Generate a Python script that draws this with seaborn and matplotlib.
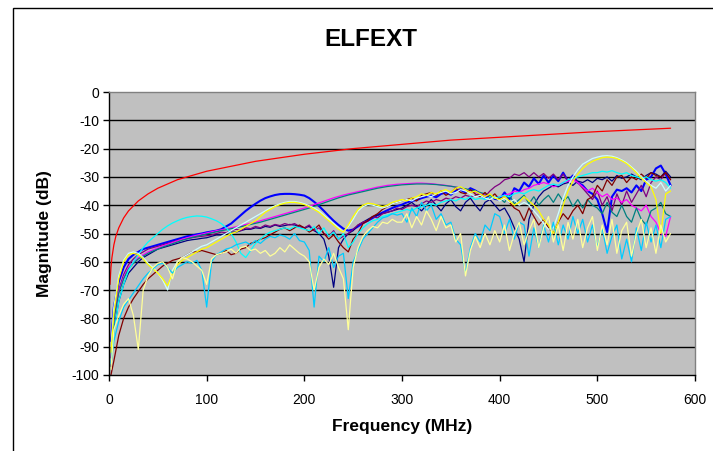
import numpy as np
import matplotlib
matplotlib.use("Agg")
import matplotlib.pyplot as plt
import seaborn as sns
from matplotlib.patches import Rectangle

sns.set_theme(style="white")
plt.rcParams['font.family'] = ['Liberation Sans', 'DejaVu Sans']
plt.rcParams['axes.unicode_minus'] = False
plt.rcParams['text.color'] = 'black'
plt.rcParams['xtick.color'] = 'black'
plt.rcParams['ytick.color'] = 'black'

# ---------------- data ----------------
freq_mhz = np.concatenate([[2], np.arange(5, 580, 5)])

limit_freq = [1, 2, 3, 5, 7, 10, 15, 20, 30, 40, 50, 70, 100, 150, 200, 250, 300,
              350, 400, 450, 500, 550, 575]
limit_db = [-68, -62, -58.5, -54, -51, -48, -44.5, -42, -38.5, -36, -34, -31, -28,
            -24.5, -22, -20, -18.5, -17, -16, -15, -14, -13.2, -12.8]

blue_db = [
    -88, -76, -67, -62, -59, -57.5, -56.5, -55.5, -55, -54.5, -54, -53.5, -53, -52.5, -52, -51.5, -51, -50.7, -50.3, -50,
    -49.6, -49.3, -49, -48.5, -47.5, -46.5, -45, -43.5, -42, -40.7, -39.5, -38.4, -37.5, -36.9, -36.4, -36.1, -36, -36, -36.1, -36.3,
    -36.6, -37.5, -38.8, -40.3, -42, -43.8, -45.5, -47, -48.3, -49, -48.6, -47.5, -46.3, -45.5, -44.5, -43.5, -42.6, -41.8, -41, -40.3,
    -39.8, -39, -38.5, -38.2, -37.5, -37, -36.6, -37.2, -36, -35.5, -36.3, -35, -34.6, -35.5, -34, -34.8, -36, -37.5, -36.5, -37.8,
    -38, -35.5, -38, -34, -35, -32, -33.5, -30.5, -32.5, -29.5, -32, -29.5, -31.5, -28.5, -31.5, -29.5, -32, -33, -35, -36,
    -38, -43, -49.5, -37, -34.5, -35, -34, -35.5, -33, -35, -31, -30, -27, -26, -29, -33]

navy_db = [
    -97, -84, -74, -68, -64, -62, -60, -58.5, -57.5, -56.5, -55.5, -55, -54.5, -54, -53.5, -53, -52.5, -52.2, -52, -51.7,
    -51.5, -51, -50.5, -50.5, -50, -49.5, -49.5, -49, -48.5, -48.5, -48, -48.2, -47.5, -47.8, -47, -47.5, -47.2, -46.8, -47, -47.5,
    -48, -47.5, -49, -50, -52, -58, -69, -55, -52, -50, -49, -47, -46, -45, -44, -43.5, -43, -42.5, -42, -41.5,
    -41, -40, -39, -40.5, -42, -40, -38, -40, -42, -39.5, -38, -40.5, -42, -39, -37.5, -40, -42, -39, -38, -40,
    -42, -41, -44, -48, -52, -60, -45, -40, -37, -35, -34, -33, -33.5, -32.5, -32, -33, -31.5, -32, -31, -32,
    -30.5, -31, -30, -31.5, -29.5, -30.5, -30, -29, -30, -31, -29.5, -28.5, -29, -30, -28, -30]

purple_db = [
    -94, -80, -70, -64.5, -61, -59, -57.5, -56.5, -55.5, -55, -54.5, -54, -53.5, -53, -52.5, -52, -51.8, -51.5, -51.2, -51,
    -50.8, -50.5, -50, -49.5, -49.7, -49, -48.5, -49, -48, -48.3, -47.5, -48, -47, -47.5, -46.8, -47.2, -46.5, -47, -46.5, -47.5,
    -48, -47, -49, -48, -50, -51, -49, -52, -51, -50, -48.5, -47, -46, -45.5, -44, -44.5, -43, -42.5, -42, -41,
    -41.5, -40.5, -40, -40.5, -39.5, -38.5, -39, -38, -38.5, -37.5, -38, -37, -37.5, -36.5, -37, -36.5, -36, -37, -35, -33.5,
    -32.5, -31, -30.5, -29, -29.5, -28.5, -30, -28.5, -30, -28.8, -30.5, -29, -31, -29, -31.5, -30, -32, -34, -36, -38,
    -35, -40, -37, -42, -36, -40, -35, -39, -36, -33, -37, -32, -30, -31, -28.5, -31]

magenta_db = [
    -91, -79, -70.5, -65.5, -62, -60, -58.5, -57.5, -56.5, -55.8, -55.1, -54.4, -53.8, -53.2, -52.6, -52, -51.5, -51, -50.6, -50.2,
    -49.8, -49.4, -49, -48.7, -48.3, -48, -47.6, -47.2, -46.8, -46.4, -46, -45.5, -45, -44.5, -44, -43.5, -43, -42.5, -42, -41.5,
    -41, -40.4, -39.8, -39.2, -38.6, -38, -37.4, -36.9, -36.4, -36, -35.6, -35.2, -34.8, -34.4, -34, -33.6, -33.3, -33, -32.8, -32.6,
    -32.5, -32.4, -32.3, -32.2, -32.2, -32.3, -32.4, -32.6, -32.8, -33, -33.3, -33.6, -34, -34.4, -34.8, -35.3, -35.8, -36.3, -36.8, -37,
    -37, -36.5, -36, -35, -35.5, -34.5, -34, -33, -32.5, -32, -32.5, -33.5, -33, -32, -31.5, -31, -32, -33.5, -35, -34,
    -35.5, -37, -36, -38, -37.5, -39, -38, -40, -41, -42, -40, -44, -46, -50, -51, -44]

teal_db = [
    -92, -80, -71, -66, -62.5, -60.5, -59, -58, -57, -56.2, -55.5, -54.8, -54.2, -53.6, -53, -52.4, -51.9, -51.4, -51, -50.6,
    -50.2, -49.8, -49.4, -49, -48.7, -48.3, -48, -47.6, -47.2, -46.8, -46.4, -46, -45.5, -45, -44.5, -44, -43.5, -43, -42.5, -42,
    -41.5, -41, -40.4, -39.8, -39.2, -38.6, -38, -37.4, -36.9, -36.4, -36, -35.6, -35.2, -34.8, -34.4, -34, -33.7, -33.4, -33.2, -33,
    -32.8, -32.7, -32.6, -32.5, -32.5, -32.5, -32.6, -32.7, -32.9, -33.1, -33.3, -33.6, -33.9, -34.2, -34.6, -35, -35.5, -36, -36.5, -37,
    -37.5, -39, -36.5, -39.5, -38, -36.5, -39.5, -37, -40, -38, -36.5, -39, -36, -38.5, -37, -40.5, -38, -41, -38, -40,
    -41, -43, -39, -42.5, -44, -40, -44, -46, -41, -45, -47, -42, -41, -39, -43, -44]

maroon_db = [
    -100, -95, -86, -80, -76, -73, -70.5, -68, -66, -64.5, -63, -61.5, -60.5, -59.5, -59, -58.5, -57.5, -56.5, -56.5, -56,
    -56.5, -57, -57.5, -57, -56, -57.5, -57, -55.5, -55, -53.5, -53, -52, -51.5, -50.5, -49.5, -48.5, -48, -49, -48, -47,
    -48, -49.5, -48.5, -47, -50, -52, -50.5, -53, -55, -56.5, -52, -50, -46.5, -45.5, -44, -43, -41.5, -40.5, -39.5, -39,
    -38.5, -38, -37.5, -38.5, -36.5, -36, -35.5, -36.5, -35, -36.5, -35.5, -34, -35.5, -36, -34.5, -36, -37, -35.5, -37.5, -36,
    -38, -37, -39, -41, -42, -45.5, -41, -44, -47, -45, -48, -50, -46, -43, -45, -42, -40, -43, -38, -37,
    -33, -35, -31, -33, -30, -29.5, -32, -30, -31, -29, -30.5, -28.5, -29.5, -30, -28.5, -31]

cyan_db = [
    -96, -85, -74, -68, -63, -60, -57.5, -55, -53, -51.5, -50, -48.5, -47.3, -46.3, -45.5, -44.8, -44.3, -44, -43.8, -43.9,
    -44.2, -44.8, -45.5, -46.5, -48, -50, -53, -57, -58.5, -56, -53.5, -52, -50.5, -49.5, -49, -48.5, -48, -48.5, -47.5, -48,
    -48.5, -49, -47.5, -50, -48, -51, -49.5, -52, -50, -55, -53, -50, -48, -46.5, -45.5, -45, -44, -43.5, -43, -42.5,
    -42, -41.5, -42, -41, -40.5, -40, -39.5, -40, -39, -38.5, -38, -38.5, -37.5, -38, -37, -38, -37.5, -38, -37, -37.5,
    -37, -36.5, -37, -36, -35.5, -36, -35, -34.5, -35, -34, -33, -32.5, -33, -32, -31, -30.5, -30, -29.5, -29, -28.5,
    -28.5, -28, -28.3, -27.8, -28.5, -29, -28.5, -29.5, -30, -30.5, -30, -31, -31.5, -31, -32, -34]

lt_turquoise_db = [
    -90, -76, -65, -59.5, -57, -56.5, -57, -58.5, -60.5, -62, -64, -66.5, -70, -63, -60, -58.5, -57.5, -56.5, -55.5, -54.5,
    -54, -53, -52, -51, -50, -49, -48, -47, -46, -45, -44, -43, -42, -41, -40.2, -39.5, -39, -38.7, -38.7, -39,
    -39.5, -40.2, -41, -42, -43.5, -45, -46.5, -48, -49.5, -47.5, -45, -42, -40.5, -39.8, -40, -40.5, -41, -40.5, -39.5, -39,
    -38.5, -38, -38.5, -37.5, -37, -36.5, -37, -36, -35.5, -35, -36, -35.5, -34.5, -35, -36, -37, -36.5, -37.5, -38, -37,
    -38.5, -37.5, -39, -38, -40, -39, -40, -42, -44, -46.5, -48.5, -48, -43, -37.5, -33, -30, -27.5, -25.5, -24.5, -23.5,
    -23, -22.6, -22.5, -22.7, -23.2, -24, -25, -26.5, -28, -30, -31.5, -33, -34, -32, -35, -33]

yellow_db = [
    -92, -78, -66, -60, -57.5, -57, -57.5, -59, -61, -62.5, -64, -66, -68.5, -64, -61, -59.5, -58.5, -57.5, -56.5, -55.5,
    -55, -54, -53, -52, -51, -50, -49.5, -48.5, -47.5, -46.5, -45.5, -44, -42.5, -41.5, -40.5, -39.8, -39.3, -39, -39, -39.3,
    -39.8, -40.5, -41.5, -42.5, -44, -45.5, -47, -48.5, -49.5, -47, -44, -41.5, -40, -39.3, -39.5, -40, -40.5, -40, -39, -38.5,
    -38, -38.5, -37.5, -37, -36, -36.5, -35.5, -36, -35, -34.5, -35.5, -34, -33.5, -34.5, -35.5, -35, -36, -37, -36, -37.5,
    -38, -37, -38.5, -40, -39, -37, -38.5, -40, -42, -45, -47, -50, -46, -40, -35, -31.5, -29, -27, -25.5, -24.5,
    -23.8, -23.2, -23, -23.1, -23.5, -24.3, -25.3, -26.8, -28.5, -30.5, -32, -33.5, -38, -50, -36, -35]

sky_blue_db = [
    -96, -88, -81, -76, -73.5, -71, -68.5, -66, -64, -62.5, -61, -60.5, -62, -64, -62, -61, -60, -60.5, -59.5, -63,
    -76, -60, -57.5, -56.5, -55.5, -55, -54, -53.5, -53, -54, -52.5, -53.5, -52, -51, -51.5, -50.5, -51, -52, -50, -52.5,
    -53, -56, -76, -58, -60, -55, -62, -58, -57, -73, -60, -56, -52, -50, -48, -46, -44.5, -44, -43, -43.5,
    -43, -46, -41, -44, -39, -42, -40, -45, -43, -47, -46, -52, -54, -64, -55, -50, -53, -47, -49, -43,
    -44, -50, -45, -52, -46, -47, -58, -48, -55, -47, -53, -46, -54, -47, -52, -44, -50, -45, -53, -47,
    -55, -48, -57, -51, -47, -59, -52, -60, -48, -56, -46, -53, -47, -55, -45, -44]

lt_yellow_db = [
    -98, -84, -79, -75, -73, -79, -91, -70, -65, -62, -60.5, -60, -62, -66, -60, -58.5, -59, -60, -61.5, -63,
    -68, -59, -57.5, -57, -56.5, -55.5, -57, -55, -54.5, -56, -55.5, -57, -56, -58, -57, -55, -56.5, -54, -55.5, -57,
    -58, -60, -70, -62, -59, -61, -57, -62, -66, -84, -62, -55, -51, -49, -47.5, -48, -46, -46.5, -45, -46,
    -46, -43, -48, -44, -47, -42, -45, -49, -44, -48, -47, -53, -50, -65, -56, -51, -55, -50, -54, -49,
    -53, -47, -56, -50, -46, -54, -49, -45, -55, -48, -44, -53, -47, -56, -46, -52, -45, -55, -48, -44,
    -56, -47, -54, -45, -57, -49, -46, -58, -50, -45, -55, -48, -57, -47, -53, -50]

# ---------------- figure ----------------
W, H = 713, 451
fig = plt.figure(figsize=(W / 100, H / 100), dpi=100)
fig.patch.set_facecolor("white")
ax = fig.add_axes([109 / W, 1 - 375 / H, (695 - 109) / W, (375 - 92) / H])
ax.set_facecolor("#C0C0C0")

plot_order = [
    (blue_db, "#0000FF", 1.5),
    (navy_db, "#000080", 0.9),
    (purple_db, "#800080", 0.9),
    (magenta_db, "#FF00FF", 0.9),
    (teal_db, "#008080", 0.9),
    (maroon_db, "#800000", 0.9),
    (cyan_db, "#00FFFF", 0.9),
    (lt_turquoise_db, "#CCFFFF", 0.9),
    (yellow_db, "#FFFF00", 0.9),
    (sky_blue_db, "#00CCFF", 0.9),
    (lt_yellow_db, "#FFFF99", 0.9),
]
for vals, col, lw in plot_order:
    assert len(vals) == len(freq_mhz), (col, len(vals))
    sns.lineplot(x=freq_mhz, y=vals, color=col, lw=lw, ax=ax, legend=False)

sns.lineplot(x=limit_freq, y=limit_db, color="#FF0000", lw=0.9, ax=ax, legend=False)

ax.set_xlim(0, 600)
ax.set_ylim(-100, 0)
ax.set_xticks(range(0, 601, 100))
ax.set_yticks(range(-100, 1, 10))
ax.grid(False)
for yv in range(-90, 0, 10):
    ax.axhline(yv, color="black", lw=1.0, zorder=0.5)
ax.set_xlabel("")
ax.set_ylabel("")
ax.tick_params(axis="both", which="major", labelsize=10, colors="black",
               direction="out", length=4, width=1, bottom=True, left=True)
ax.tick_params(axis="x", pad=9)
ax.tick_params(axis="y", pad=3)
for s in ["left", "bottom"]:
    ax.spines[s].set_color("black")
    ax.spines[s].set_linewidth(1)
for s in ["top", "right"]:
    ax.spines[s].set_color("#808080")
    ax.spines[s].set_linewidth(1)

fig.text(371 / W, 1 - 40 / H, "ELFEXT", ha="center", va="center",
         fontsize=17.5, fontweight="bold", color="black")
fig.text(402 / W, 1 - 427 / H, "Frequency (MHz)", ha="center", va="center",
         fontsize=12.5, fontweight="bold", color="black")
fig.text(45 / W, 1 - 234 / H, "Magnitude (dB)", ha="center", va="center",
         rotation=90, fontsize=12.5, fontweight="bold", color="black")

# outer chart frame (left and top edges visible)
fig.add_artist(Rectangle((13 / W, -0.5), 2.0, 1.5 - 8 / H, transform=fig.transFigure,
                         fill=False, edgecolor="black", lw=1.0))

fig.savefig("out.png", dpi=100, facecolor="white")
